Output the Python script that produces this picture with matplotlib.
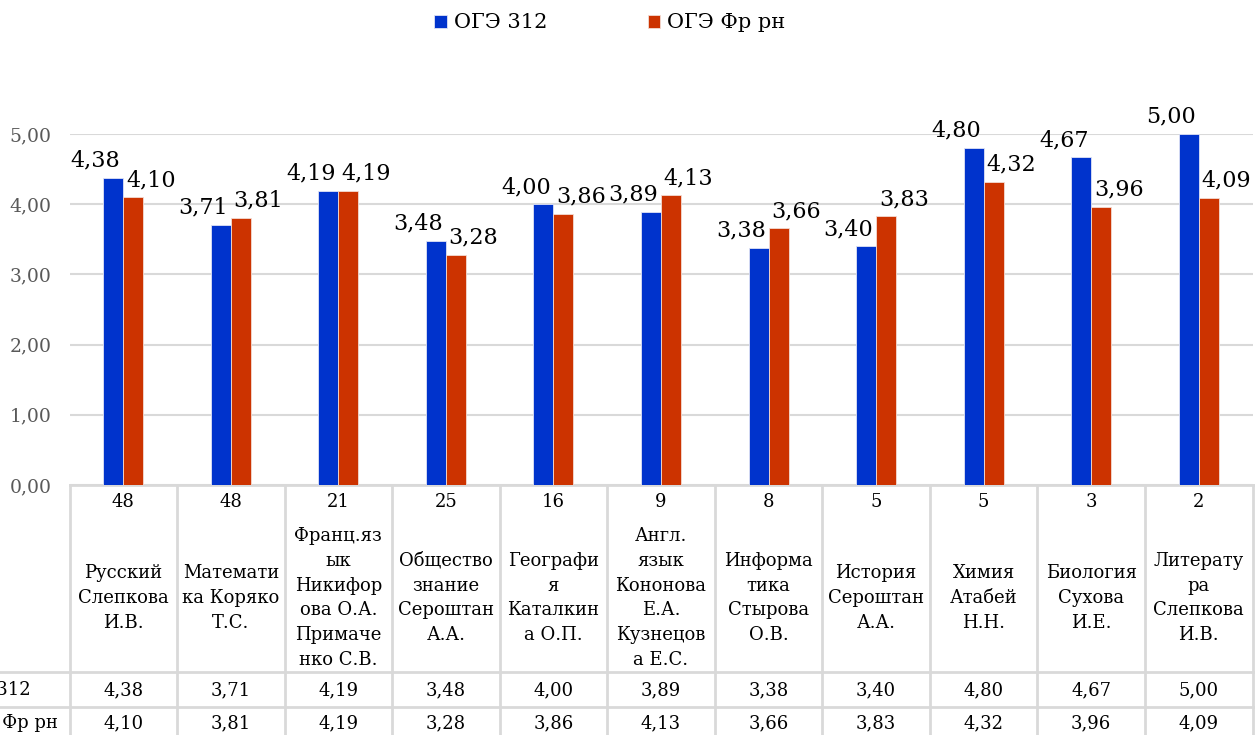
import matplotlib
matplotlib.use('Agg')
import matplotlib.pyplot as plt
from matplotlib.transforms import blended_transform_factory
from matplotlib.ticker import FuncFormatter

plt.rcParams['font.family'] = ['DejaVu Serif', 'DejaVu Sans']

categories = [
    "Русский\nСлепкова\nИ.В.",
    "Математи\nка Коряко\nТ.С.",
    "Франц.яз\nык\nНикифор\nова О.А.\nПримаче\nнко С.В.",
    "Общество\nзнание\nСероштан\nА.А.",
    "Географи\nя\nКаталкин\nа О.П.",
    "Англ.\nязык\nКононова\nЕ.А.\nКузнецов\nа Е.С.",
    "Информа\nтика\nСтырова\nО.В.",
    "История\nСероштан\nА.А.",
    "Химия\nАтабей\nН.Н.",
    "Биология\nСухова\nИ.Е.",
    "Литерату\nра\nСлепкова\nИ.В.",
]
counts = [48, 48, 21, 25, 16, 9, 8, 5, 5, 3, 2]
oge_312 = [4.38, 3.71, 4.19, 3.48, 4.00, 3.89, 3.38, 3.40, 4.80, 4.67, 5.00]
oge_fr = [4.10, 3.81, 4.19, 3.28, 3.86, 4.13, 3.66, 3.83, 4.32, 3.96, 4.09]
series_names = ["ОГЭ 312", "ОГЭ Фр рн"]
yticks = [0, 1, 2, 3, 4, 5]

BLUE = '#0033CC'
RED = '#CC3300'
GRID = '#d9d9d9'

W, H = 1256, 735
fig = plt.figure(figsize=(W / 100, H / 100), dpi=100)
L, R, T, B = 69.5, 1252.5, 134, 485
ax = fig.add_axes([L / W, 1 - B / H, (R - L) / W, (B - T) / H])

n = len(categories)
x = list(range(n))
bw = 0.186
b1 = ax.bar([i - bw / 2 for i in x], oge_312, width=bw, color=BLUE,
            edgecolor='#dfe3f5', linewidth=0.6, label=series_names[0], zorder=3)
b2 = ax.bar([i + bw / 2 for i in x], oge_fr, width=bw, color=RED,
            edgecolor='#f3dcd3', linewidth=0.6, label=series_names[1], zorder=3)

fmt = lambda v: f"{v:.2f}".replace('.', ',')

for i in x:
    ax.annotate(fmt(oge_312[i]), xy=(i, oge_312[i]), xytext=(-2, 8),
                textcoords='offset points', ha='right', va='baseline',
                fontsize=16, color='black', annotation_clip=False, zorder=5)
    ax.annotate(fmt(oge_fr[i]), xy=(i, oge_fr[i]), xytext=(2, 8),
                textcoords='offset points', ha='left', va='baseline',
                fontsize=16, color='black', annotation_clip=False, zorder=5)

ax.set_xlim(-0.5, n - 0.5)
ax.set_ylim(0, 5)
ax.set_yticks(yticks)
ax.yaxis.set_major_formatter(FuncFormatter(lambda v, p: fmt(v)))
ax.tick_params(axis='y', length=0, pad=13, labelsize=13.5, labelcolor='#595959')
ax.set_xticks([])
for s in ax.spines.values():
    s.set_visible(False)
ax.yaxis.grid(True, color=GRID, lw=1.5)
ax.set_axisbelow(True)

# data table
trans = blended_transform_factory(ax.transData, fig.transFigure)
fy = lambda p: 1 - p / H
lw_t = 2
for k in range(n + 1):
    ax.plot([k - 0.5, k - 0.5], [fy(B), 0], transform=trans, color=GRID,
            lw=lw_t, clip_on=False, zorder=1)
ax.plot([-0.5, n - 0.5], [fy(B), fy(B)], transform=trans, color=GRID,
        lw=lw_t, clip_on=False, zorder=1)
for p in (672, 707):
    fig.add_artist(plt.Line2D([0, R / W], [fy(p), fy(p)], color=GRID, lw=lw_t))

for i in x:
    ax.text(i, fy(502), str(counts[i]), transform=trans, ha='center',
            va='center', fontsize=13)
    ax.text(i, fy(598), categories[i], transform=trans, ha='center',
            va='center', fontsize=13, linespacing=1.48, multialignment='center')
    ax.text(i, fy(690), fmt(oge_312[i]), transform=trans, ha='center',
            va='center', fontsize=13)
    ax.text(i, fy(723), fmt(oge_fr[i]), transform=trans, ha='center',
            va='center', fontsize=13)

# row labels: partly beyond the left edge, as in the reference
fig.text(31 / W, fy(690), series_names[0], ha='right', va='center', fontsize=13)
fig.text(58 / W, fy(723), series_names[1], ha='right', va='center', fontsize=13)

fig.legend(handles=[b1, b2], labels=series_names, loc='center',
           bbox_to_anchor=(610 / W, fy(23)), ncol=2, frameon=False,
           fontsize=15, handlelength=0.6, handleheight=0.6,
           handletextpad=0.35, columnspacing=4.8)

fig.savefig('out.png', dpi=100)
